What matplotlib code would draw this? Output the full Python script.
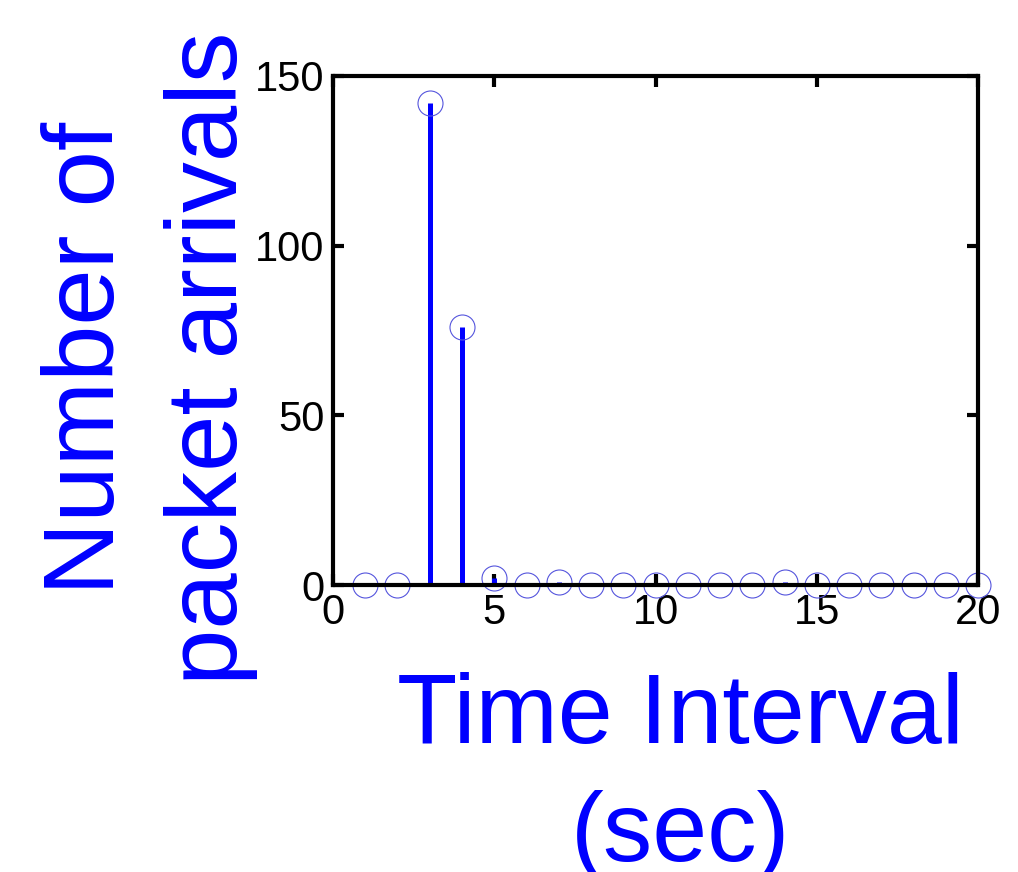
import matplotlib
matplotlib.use('Agg')
import matplotlib.pyplot as plt

plt.rcParams['font.family'] = ['Liberation Sans', 'DejaVu Sans']

intervals = list(range(1, 21))
arrivals = [0, 0, 142, 76, 2, 0, 1, 0, 0, 0, 0, 0, 0, 1, 0, 0, 0, 0, 0, 0]

fig = plt.figure(figsize=(10.18, 8.72), dpi=100)
ax = fig.add_axes([0.327, 0.329, 0.634, 0.584])

markerline, stemlines, baseline = ax.stem(intervals, arrivals, basefmt=' ')
plt.setp(stemlines, color='#0000ff', linewidth=3.6)
plt.setp(markerline, marker='o', markersize=18, markerfacecolor='none',
         markeredgecolor='#5555dd', markeredgewidth=0.8, clip_on=False)

ax.set_xlim(0, 20)
ax.set_ylim(0, 150)
ax.set_xticks([0, 5, 10, 15, 20])
ax.set_yticks([0, 50, 100, 150])
ax.tick_params(direction='in', length=8, width=3, labelsize=30,
               top=True, right=True, pad=6)
for s in ax.spines.values():
    s.set_linewidth(3)

ax.set_xlabel('Time Interval\n(sec)', fontsize=71, color='#0000ff', linespacing=1.38)
ax.set_ylabel('Number of\npacket arrivals', fontsize=73, color='#0000ff', linespacing=1.4)
ax.xaxis.set_label_coords(0.538, -0.170)
ax.yaxis.set_label_coords(-0.116, 0.446)

plt.savefig('out.png', dpi=100)
